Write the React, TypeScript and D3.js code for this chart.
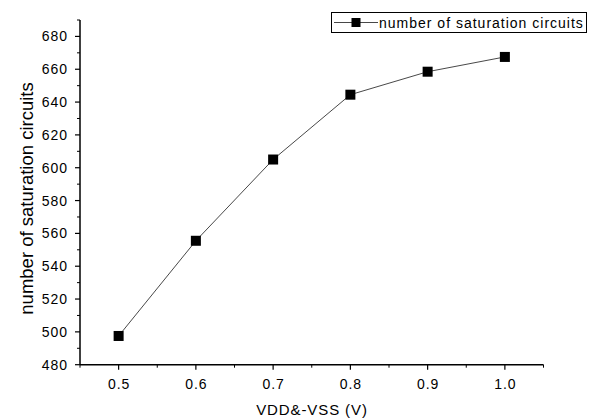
import React from "react";
import * as d3 from "d3";

const xValues = [0.5, 0.6, 0.7, 0.8, 0.9, 1.0];
const yValues = [497.5, 555.5, 605, 644.5, 658.5, 667.5];
const xTicks = [0.5, 0.6, 0.7, 0.8, 0.9, 1.0];
const yTicks = [480, 500, 520, 540, 560, 580, 600, 620, 640, 660, 680];
const seriesName = "number of saturation circuits";
const xLabel = "VDD&-VSS (V)";
const yLabel = "number of saturation circuits";

export default function App() {
  const W = 595, H = 419;
  const left = 80, right = 543.5, top = 20, bottom = 364.7;
  const x = d3.scaleLinear().domain([0.45, 1.05]).range([left, right]);
  const y = d3.scaleLinear().domain([480, 690]).range([bottom, top]);
  const line = d3.line<number>().x((_, i) => x(xValues[i])).y((d) => y(d));
  const xMinor = d3.range(0, 7).map((i) => 0.45 + i * 0.1);
  const yMinor = d3.range(0, 11).map((i) => 490 + i * 20);
  const font = "Liberation Sans, Arial, sans-serif";
  const ms = 10;
  return (
    <svg width={W} height={H} style={{ position: "absolute", left: 0, top: 0, background: "#fff" }}>
      <rect width={W} height={H} fill="#fff" />
      <path d={line(yValues) || ""} fill="none" stroke="#333" strokeWidth={0.9} />
      {yValues.map((v, i) => (
        <rect key={i} x={x(xValues[i]) - ms / 2} y={y(v) - ms / 2} width={ms} height={ms} fill="#000" />
      ))}
      <line x1={left} x2={left} y1={top} y2={bottom} stroke="#000" strokeWidth={1.5} />
      <line x1={left} x2={right} y1={bottom} y2={bottom} stroke="#000" strokeWidth={1.5} />
      {yTicks.map((t) => (
        <g key={t}>
          <line x1={left - 5} x2={left} y1={y(t)} y2={y(t)} stroke="#000" strokeWidth={1.2} />
          <text x={left - 12} y={y(t)} dy="0.36em" textAnchor="end" fontFamily={font} fontSize={14} letterSpacing={1} fill="#000">{t}</text>
        </g>
      ))}
      {yMinor.map((t) => (
        <line key={t} x1={left - 3} x2={left} y1={y(t)} y2={y(t)} stroke="#000" strokeWidth={1} />
      ))}
      {xTicks.map((t) => (
        <g key={t}>
          <line x1={x(t)} x2={x(t)} y1={bottom} y2={bottom + 5} stroke="#000" strokeWidth={1.2} />
          <text x={x(t) + 0.5} y={bottom + 24.5} textAnchor="middle" fontFamily={font} fontSize={14} letterSpacing={1} fill="#000">{t.toFixed(1)}</text>
        </g>
      ))}
      {xMinor.map((t) => (
        <line key={t} x1={x(t)} x2={x(t)} y1={bottom} y2={bottom + 3} stroke="#000" strokeWidth={1} />
      ))}
      <text x={312} y={415} textAnchor="middle" fontFamily={font} fontSize={15} letterSpacing={0.9} fill="#000">{xLabel}</text>
      <text transform={`translate(32.5,${198.5}) rotate(-90)`} textAnchor="middle" fontFamily={font} fontSize={18.5} fill="#000">{yLabel}</text>
      <g>
        <rect x={331.5} y={12.5} width={255} height={20} fill="#fff" stroke="#000" strokeWidth={1} />
        <line x1={334} x2={378} y1={22.5} y2={22.5} stroke="#333" strokeWidth={0.9} />
        <rect x={356 - 4.5} y={22.5 - 4.5} width={9} height={9} fill="#000" />
        <text x={379} y={22.5} dy="0.36em" fontFamily={font} fontSize={14} letterSpacing={1} fill="#000">{seriesName}</text>
      </g>
    </svg>
  );
}
